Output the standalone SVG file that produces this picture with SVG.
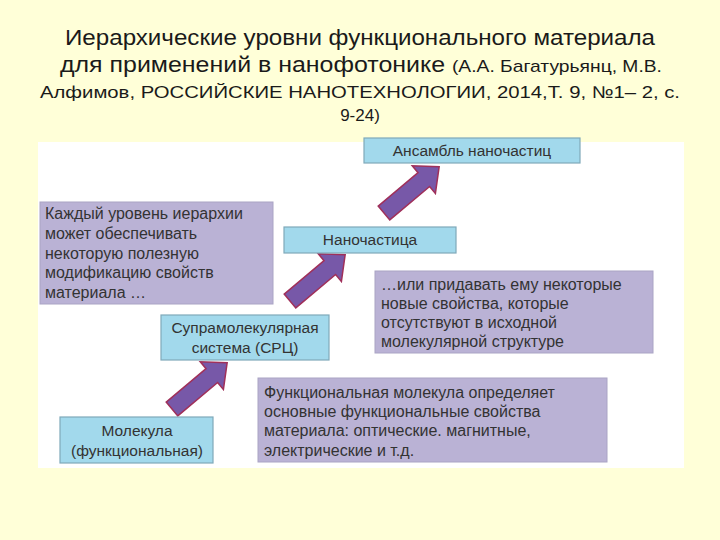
<svg xmlns="http://www.w3.org/2000/svg" width="720" height="540" viewBox="0 0 720 540">
<defs>
<style>
.title{font-family:"Liberation Sans",Arial,sans-serif;fill:#1a1a1a;}
.t{font-family:"Liberation Sans",Arial,sans-serif;font-size:15.5px;fill:#333333;}
.p{font-family:"Liberation Sans",Arial,sans-serif;font-size:16px;fill:#333333;}
.blue{fill:#a2d9ec;stroke:#7fa9ba;stroke-width:1.2;}
.purp{fill:#bab2d5;stroke:#aaa4c4;stroke-width:1;}
.arrow{fill:#7758a8;stroke:#a0305a;stroke-width:1.5;stroke-linejoin:miter;}
</style>
<path id="arr" d="M0,-9 L52,-9 L52,-18 L72,0 L52,18 L52,9 L0,9 Z"/>
</defs>
<rect x="0" y="0" width="720" height="540" fill="#ffffd8"/>
<text class="title" x="360" y="45" font-size="22" text-anchor="middle" textLength="590" lengthAdjust="spacingAndGlyphs">Иерархические уровни функционального материала</text>
<text class="title" x="60" y="72" font-size="22" textLength="602" lengthAdjust="spacingAndGlyphs">для применений в нанофотонике <tspan font-size="17">(А.А. Багатурьянц, М.В.</tspan></text>
<text class="title" x="40" y="98" font-size="17" textLength="640" lengthAdjust="spacingAndGlyphs">Алфимов, РОССИЙСКИЕ  НАНОТЕХНОЛОГИИ, 2014,Т. 9, №1– 2, с.</text>
<text class="title" x="360" y="121" font-size="17" text-anchor="middle">9-24)</text>
<rect x="38" y="142" width="646" height="326" fill="#ffffff"/>
<g id="connectors">
<use href="#arr" class="arrow" transform="translate(172,409) rotate(-40)"/>
<use href="#arr" class="arrow" transform="translate(290,301) rotate(-40)"/>
<use href="#arr" class="arrow" transform="translate(384,213) rotate(-40)"/>
</g>
<g id="ensemble">
<rect class="blue" x="364" y="138" width="216" height="25"/>
<text class="t" x="472" y="156" text-anchor="middle">Ансамбль наночастиц</text>
</g>
<g id="note-left">
<rect class="purp" x="40" y="202" width="233" height="102"/>
<text class="p" x="45" y="219">Каждый уровень иерархии</text>
<text class="p" x="45" y="239">может обеспечивать</text>
<text class="p" x="45" y="259">некоторую полезную</text>
<text class="p" x="45" y="278">модификацию свойств</text>
<text class="p" x="45" y="298">материала …</text>
</g>
<g id="nanoparticle">
<rect class="blue" x="284" y="227" width="172" height="26"/>
<text class="t" x="370" y="245" text-anchor="middle">Наночастица</text>
</g>
<g id="note-right">
<rect class="purp" x="375" y="271" width="278" height="82"/>
<text class="p" x="381" y="290">…или придавать ему некоторые</text>
<text class="p" x="381" y="309">новые свойства, которые</text>
<text class="p" x="381" y="328">отсутствуют в исходной</text>
<text class="p" x="381" y="347">молекулярной структуре</text>
</g>
<g id="supramolecular">
<rect class="blue" x="161" y="315" width="168" height="45"/>
<text class="t" x="245" y="333" text-anchor="middle">Супрамолекулярная</text>
<text class="t" x="245" y="353" text-anchor="middle">система (СРЦ)</text>
</g>
<g id="note-bottom">
<rect class="purp" x="258" y="378" width="349" height="84"/>
<text class="p" x="264" y="398">Функциональная молекула определяет</text>
<text class="p" x="264" y="417">основные функциональные свойства</text>
<text class="p" x="264" y="436">материала: оптические. магнитные,</text>
<text class="p" x="264" y="456">электрические  и т.д.</text>
</g>
<g id="molecule">
<rect class="blue" x="60" y="417" width="153" height="46"/>
<text class="t" x="137" y="436" text-anchor="middle">Молекула</text>
<text class="t" x="137" y="456" text-anchor="middle">(функциональная)</text>
</g>
</svg>
